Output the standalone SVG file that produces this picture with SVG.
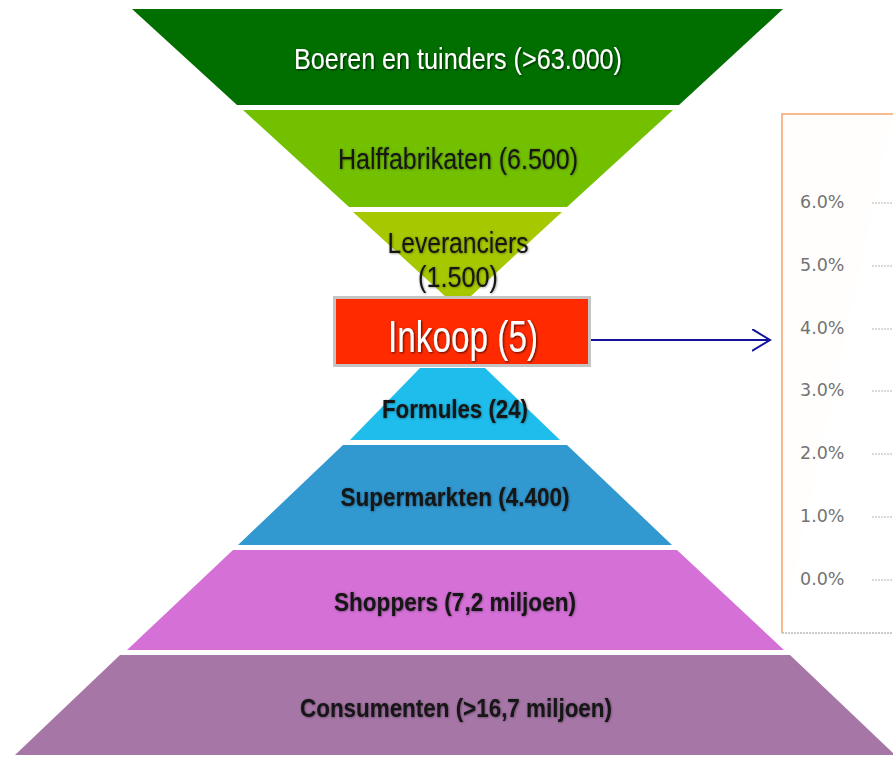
<svg xmlns="http://www.w3.org/2000/svg" width="893" height="757" viewBox="0 0 893 757">
  <style>
    .lbl { font-family: "Liberation Sans", Arial, sans-serif; text-anchor: middle; }
    .w { fill: #ffffff; filter: url(#shadowDark); }
    .d { fill: #141414; filter: url(#shadowSoft); }
    .b { font-weight: bold; }
    .axis { font-family: "DejaVu Sans", Verdana, sans-serif; font-size: 17.5px; fill: #737373; }
    .tick { stroke: #b4b4b4; stroke-width: 1; stroke-dasharray: 2 1; }
  </style>
  <defs>
    <filter id="shadowDark" x="-10%" y="-30%" width="120%" height="160%">
      <feDropShadow dx="1" dy="1" stdDeviation="0.8" flood-color="#000" flood-opacity="0.7"/>
    </filter>
    <filter id="shadowSoft" x="-10%" y="-30%" width="120%" height="160%">
      <feDropShadow dx="0.5" dy="0.5" stdDeviation="1" flood-color="#000" flood-opacity="0.45"/>
    </filter>
    <marker id="chev" markerWidth="20" markerHeight="24" refX="18" refY="11" orient="auto" markerUnits="userSpaceOnUse">
      <path d="M0,0 L18,11 L0,22" fill="none" stroke="#13139c" stroke-width="2"/>
    </marker>
  </defs>

  <rect width="893" height="757" fill="#ffffff"/>

  <!-- chart panel -->
  <g id="chart">
    <path d="M893,114 H782 V633" fill="#fffefd" stroke="#f4a46a" stroke-width="1.5"/>
    <line x1="782" y1="633" x2="893" y2="633" stroke="#b8b8b8" stroke-width="1.5" stroke-dasharray="2 1"/>
    <text class="axis" x="800" y="208">6.0%</text>
    <text class="axis" x="800" y="271">5.0%</text>
    <text class="axis" x="800" y="334">4.0%</text>
    <text class="axis" x="800" y="396">3.0%</text>
    <text class="axis" x="800" y="459">2.0%</text>
    <text class="axis" x="800" y="522">1.0%</text>
    <text class="axis" x="800" y="585">0.0%</text>
    <line class="tick" x1="872" y1="203" x2="893" y2="203"/>
    <line class="tick" x1="872" y1="266" x2="893" y2="266"/>
    <line class="tick" x1="872" y1="329" x2="893" y2="329"/>
    <line class="tick" x1="872" y1="391" x2="893" y2="391"/>
    <line class="tick" x1="872" y1="454" x2="893" y2="454"/>
    <line class="tick" x1="872" y1="517" x2="893" y2="517"/>
    <line class="tick" x1="872" y1="580" x2="893" y2="580"/>
  </g>

  <g id="boeren">
    <polygon points="132,9 783,9 679,105 237,105" fill="#006f00"/>
    <text class="lbl w" x="458" y="69" font-size="30" textLength="328" lengthAdjust="spacingAndGlyphs">Boeren en tuinders (&gt;63.000)</text>
  </g>

  <g id="halffabrikaten">
    <polygon points="243,110 673,110 567,207 349,207" fill="#72c000"/>
    <text class="lbl d" x="458" y="169" font-size="30" textLength="240" lengthAdjust="spacingAndGlyphs">Halffabrikaten (6.500)</text>
  </g>

  <g id="leveranciers">
    <polygon points="353,212 562,212 458,308" fill="#a6c800"/>
    <text class="lbl d" x="458" y="253" font-size="29" textLength="141" lengthAdjust="spacingAndGlyphs">Leveranciers</text>
    <text class="lbl d" x="458" y="287" font-size="29" textLength="80" lengthAdjust="spacingAndGlyphs">(1.500)</text>
  </g>

  <g id="inkoop">
    <rect x="334.5" y="297.5" width="255" height="68" fill="#ff2a00" stroke="#c4c4c4" stroke-width="3"/>
    <text class="lbl w" x="463" y="352" font-size="44" textLength="150" lengthAdjust="spacingAndGlyphs">Inkoop (5)</text>
  </g>

  <g id="formules">
    <polygon points="420,368 485,368 560,440 350,440" fill="#1fbdec"/>
    <text class="lbl d b" x="455" y="418" font-size="25" textLength="146" lengthAdjust="spacingAndGlyphs">Formules (24)</text>
  </g>

  <g id="supermarkten">
    <polygon points="343,445 567,445 672,545 238,545" fill="#3198d0"/>
    <text class="lbl d b" x="455" y="506" font-size="25" textLength="229" lengthAdjust="spacingAndGlyphs">Supermarkten (4.400)</text>
  </g>

  <g id="shoppers">
    <polygon points="233,550 677,550 784,650 127,650" fill="#d470d6"/>
    <text class="lbl d b" x="455" y="611" font-size="25" textLength="242" lengthAdjust="spacingAndGlyphs">Shoppers (7,2 miljoen)</text>
  </g>

  <g id="consumenten">
    <polygon points="120,655 790,655 895,755 15,755" fill="#a676a7"/>
    <text class="lbl d b" x="456" y="717" font-size="25" textLength="312" lengthAdjust="spacingAndGlyphs">Consumenten (&gt;16,7 miljoen)</text>
  </g>

  <g id="connectors">
    <line x1="591" y1="340" x2="770" y2="340" stroke="#13139c" stroke-width="2" marker-end="url(#chev)"/>
  </g>
</svg>
